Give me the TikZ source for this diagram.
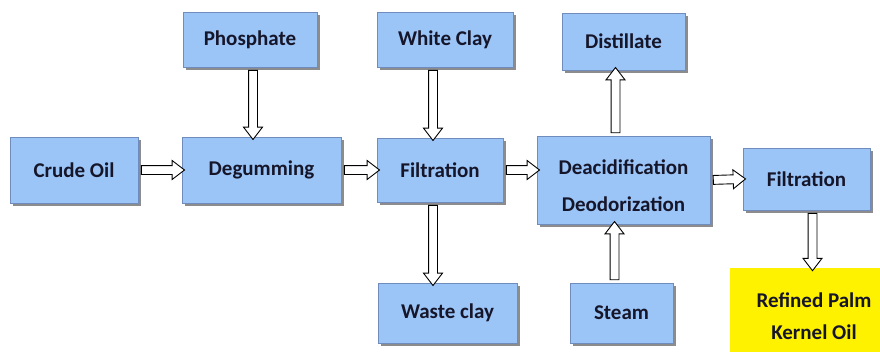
\documentclass[tikz,border=0pt]{standalone}
\usepackage{fontspec}
\setmainfont{Carlito}
\usetikzlibrary{shapes.arrows,shadows,calc}

\definecolor{boxblue}{RGB}{155,196,247}
\definecolor{boxline}{RGB}{112,140,188}
\definecolor{boxtext}{RGB}{22,22,42}

\tikzset{
	stage/.style={rectangle, draw=boxline, line width=0.8pt, fill=boxblue,
		text=boxtext, inner sep=0pt, align=center,
		drop shadow={shadow xshift=3pt, shadow yshift=-3pt, fill=black!45, opacity=1}},
	flow/.style={single arrow, draw=black, fill=white, line width=0.9pt,
		inner xsep=0pt, inner ysep=4pt, single arrow head extend=5pt,
		single arrow tip angle=75, single arrow head indent=0pt}
}

% hollow block arrow from one point to another
\newcommand{\flowarrow}[2]{%
	\path let \p1=(#1), \p2=(#2), \n1={veclen(\x2-\x1,\y2-\y1)} in
	(\p1) -- (\p2) node[flow, midway, sloped, allow upside down, minimum height=\n1] {};}

\begin{document}
\begin{tikzpicture}[font=\fontsize{21}{26}\selectfont\bfseries, x=1pt, y=-1pt]
	
	\useasboundingbox (0,0) rectangle (880,351);
	\clip (0,0) rectangle (880,351);
	
	%----------------------------
	% Main line
	%----------------------------
	\node[stage, minimum width=128, minimum height=66] (crude) at (74,170) {Crude Oil};
	\node[stage, minimum width=159, minimum height=66] (degum) at (261.5,170) {Degumming};
	\node[stage, minimum width=126, minimum height=64] (filtA) at (440,170) {Filtration};
	\node[stage, minimum width=173, minimum height=88, font=\fontsize{21}{37}\selectfont\bfseries]
		(deacid) at (623.5,180) {\rule{0pt}{27pt}Deacidification\\Deodorization};
	\node[stage, minimum width=127, minimum height=62] (filtB) at (806.5,179) {Filtration};
	
	%----------------------------
	% Inputs and outputs
	%----------------------------
	\node[stage, minimum width=134, minimum height=55] (phos) at (250,39.5) {Phosphate};
	\node[stage, minimum width=136, minimum height=55] (clay) at (445,39.5) {White Clay};
	\node[stage, minimum width=123, minimum height=57] (distil) at (623.5,41.5) {Distillate};
	\node[stage, minimum width=139, minimum height=60] (waste) at (447.5,313) {Waste clay};
	\node[stage, minimum width=103, minimum height=60] (steam) at (621.5,313) {Steam};
	
	% product
	\node[rectangle, fill=yellow, text=boxtext, inner sep=0pt, align=center,
		minimum width=168, minimum height=96, font=\fontsize{21}{32}\selectfont\bfseries]
		(refined) at (814,316) {Refined Palm\\Kernel Oil};
	
	%----------------------------
	% Arrows
	%----------------------------
	\flowarrow{crude.east}{degum.west}
	\flowarrow{degum.east}{filtA.west}
	\flowarrow{filtA.east}{filtA.east -| deacid.west}
	\flowarrow{deacid.east}{filtB.west}
	
	\flowarrow{[xshift=3pt]phos.south}{[xshift=3pt]phos.south |- degum.north}
	\flowarrow{[xshift=-12pt]clay.south}{[xshift=-12pt]clay.south |- filtA.north}
	\flowarrow{[xshift=-7pt]filtA.south}{[xshift=-7pt]filtA.south |- waste.north}
	\flowarrow{[xshift=-8pt]deacid.north}{[xshift=-8pt]deacid.north |- distil.south}
	\flowarrow{[xshift=-7pt]steam.north}{[xshift=-7pt]steam.north |- deacid.south}
	\flowarrow{[xshift=6pt]filtB.south}{[xshift=6pt]filtB.south |- refined.north}
	
\end{tikzpicture}
\end{document}
